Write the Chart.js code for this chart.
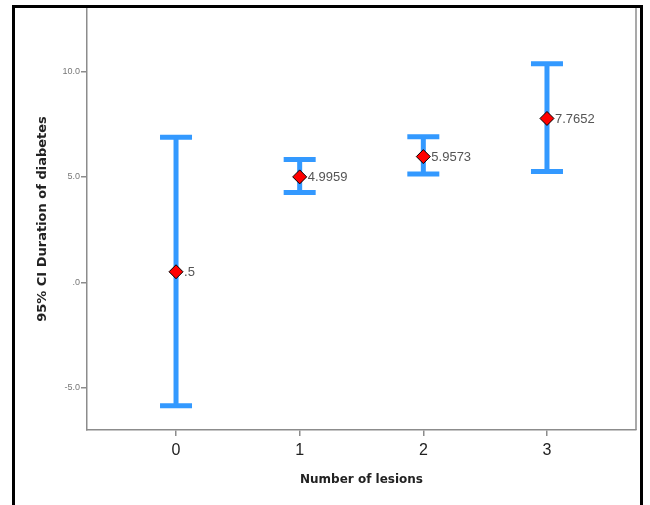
<!DOCTYPE html>
<html>
<head>
<meta charset="utf-8">
<script src="https://cdn.jsdelivr.net/npm/chart.js@4/dist/chart.umd.min.js"></script>
<style>
    html, body { margin: 0; padding: 0; background: #fff; }
    #wrap { position: relative; width: 650px; height: 505px; }
    #frame {
        position: absolute; left: 12px; top: 5px; width: 631px; height: 520px;
        border: 3px solid #000; box-sizing: border-box; pointer-events: none;
    }
</style>
</head>
<body>
<div id="wrap">
    <canvas id="chart" width="650" height="505"></canvas>
    <div id="frame"></div>
</div>
<script>
// data
const lesions = [0, 1, 2, 3];
const means = [0.5, 4.9959, 5.9573, 7.7652];
const meanLabels = ['.5', '4.9959', '5.9573', '7.7652'];
const ciLower = [-5.85, 4.26, 5.13, 5.25];
const ciUpper = [6.87, 5.82, 6.90, 10.36];
const yTicks = [-5, 0, 5, 10];
const yTickLabels = ['-5.0', '.0', '5.0', '10.0'];
const xTickLabels = ['0', '1', '2', '3'];

const barColor = '#3399ff';
const axisColor = '#8c8c8c';
const titleFont = '"DejaVu Sans", Verdana, sans-serif';

// draws the CI whiskers behind the mean markers
const errorBars = {
    id: 'errorBars',
    beforeDatasetsDraw(chart) {
        const ctx = chart.ctx;
        const x = chart.scales.x, y = chart.scales.y;
        ctx.save();
        ctx.strokeStyle = barColor;
        ctx.lineWidth = 5;
        ctx.lineCap = 'butt';
        lesions.forEach((v, i) => {
            const px = x.getPixelForValue(v);
            const top = y.getPixelForValue(ciUpper[i]);
            const bot = y.getPixelForValue(ciLower[i]);
            ctx.beginPath();
            ctx.moveTo(px, top);
            ctx.lineTo(px, bot);
            ctx.moveTo(px - 16, top);
            ctx.lineTo(px + 16, top);
            ctx.moveTo(px - 16, bot);
            ctx.lineTo(px + 16, bot);
            ctx.stroke();
        });
        ctx.restore();
    },
    afterDatasetsDraw(chart) {
        const ctx = chart.ctx;
        const x = chart.scales.x, y = chart.scales.y;
        ctx.save();
        ctx.fillStyle = '#555';
        ctx.font = '13px Arial, "Liberation Sans", sans-serif';
        ctx.textBaseline = 'middle';
        lesions.forEach((v, i) => {
            ctx.fillText(meanLabels[i], x.getPixelForValue(v) + 8, y.getPixelForValue(means[i]) + 1);
        });
        // right edge of the plot frame
        const a = chart.chartArea;
        ctx.strokeStyle = axisColor;
        ctx.lineWidth = 1.5;
        ctx.beginPath();
        ctx.moveTo(a.right, a.top);
        ctx.lineTo(a.right, a.bottom);
        ctx.stroke();
        ctx.restore();
    }
};

new Chart(document.getElementById('chart'), {
    type: 'scatter',
    data: {
        datasets: [{
            data: lesions.map((v, i) => ({ x: v, y: means[i] })),
            pointStyle: 'rectRot',
            pointRadius: 7,
            pointHoverRadius: 7,
            backgroundColor: '#ff0000',
            borderColor: '#000',
            borderWidth: 1
        }]
    },
    options: {
        responsive: false,
        animation: false,
        layout: { padding: { left: 0, top: 7, right: 14, bottom: 0 } },
        plugins: { legend: { display: false }, tooltip: { enabled: false } },
        scales: {
            x: {
                type: 'linear',
                min: -0.72,
                max: 3.72,
                afterBuildTicks: s => { s.ticks = lesions.map(v => ({ value: v })); },
                afterFit: s => { s.height = 75; },
                grid: { drawOnChartArea: false, color: axisColor, tickLength: 6, lineWidth: 1.5 },
                border: { color: axisColor, width: 1.5 },
                ticks: {
                    color: '#222',
                    font: { family: 'Arial, "Liberation Sans", sans-serif', size: 16 },
                    padding: 5,
                    callback: (v, i) => xTickLabels[i]
                },
                title: {
                    display: true,
                    text: 'Number of lesions',
                    color: '#222',
                    font: { family: titleFont, size: 12, weight: 'bold' },
                    padding: { top: 10, bottom: 18 }
                }
            },
            y: {
                min: -7,
                max: 13,
                afterBuildTicks: s => { s.ticks = yTicks.map(v => ({ value: v })); },
                afterFit: s => { s.width = 87; },
                grid: { drawOnChartArea: false, color: axisColor, tickLength: 6, lineWidth: 1.5 },
                border: { color: axisColor, width: 1.5 },
                ticks: {
                    color: '#777',
                    font: { family: 'Arial, "Liberation Sans", sans-serif', size: 9 },
                    padding: 1,
                    callback: (v, i) => yTickLabels[i]
                },
                title: {
                    display: true,
                    text: '95% CI Duration of diabetes',
                    color: '#222',
                    font: { family: titleFont, size: 13, weight: 'bold' },
                    padding: { top: 35, bottom: 4 }
                }
            }
        }
    },
    plugins: [errorBars]
});
</script>
</body>
</html>
